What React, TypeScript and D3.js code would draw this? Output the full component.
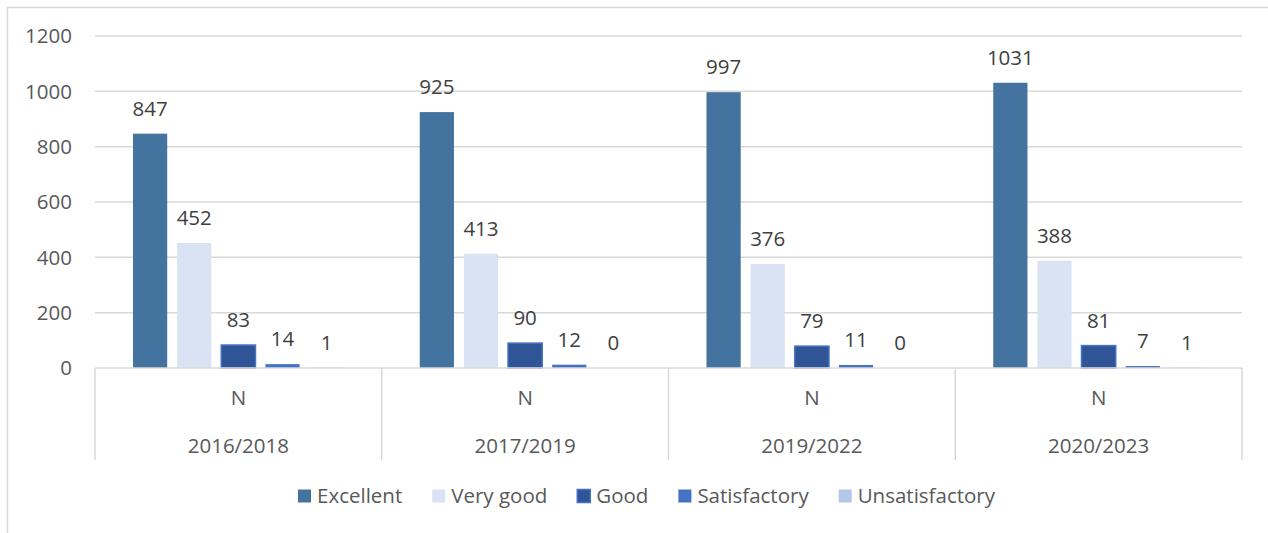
import React, { useEffect, useRef } from 'react';
import { scaleBand, scaleLinear, select } from 'd3';

const periods = ['2016/2018', '2017/2019', '2019/2022', '2020/2023'];
const subLabel = 'N';
const series = ['Excellent', 'Very good', 'Good', 'Satisfactory', 'Unsatisfactory'];
const excellent = [847, 925, 997, 1031];
const veryGood = [452, 413, 376, 388];
const good = [83, 90, 79, 81];
const satisfactory = [14, 12, 11, 7];
const unsatisfactory = [1, 0, 0, 1];
const yTicks = [0, 200, 400, 600, 800, 1000, 1200];

const fills = ['#44739F', '#DAE3F3', '#2F5597', '#4472C4', '#B4C7E7'];
const strokes = ['none', 'none', '#4472C4', 'none', 'none'];

const App = () => {
  const ref = useRef<SVGSVGElement | null>(null);

  useEffect(() => {
    const svg = select(ref.current);
    svg.selectAll('*').remove();
    const font = "'Open Sans', sans-serif";
    const fontSize = 20.5;

    const left = 95;
    const right = 1242;
    const top = 36;
    const bottom = 368;
    const values = [excellent, veryGood, good, satisfactory, unsatisfactory];

    // chart area border (cropped at right / bottom)
    svg.append('path')
      .attr('d', 'M7.5,533 L7.5,7.5 L1268,7.5')
      .attr('fill', 'none')
      .attr('stroke', '#D9D9D9')
      .attr('stroke-width', 1.5);

    const y = scaleLinear().domain([0, 1200]).range([bottom, top]);
    const x = scaleBand().domain(periods).range([left, right]).padding(0);
    const cw = x.bandwidth();
    const inner = scaleBand()
      .domain(series)
      .range([cw * 0.1325, cw * (1 - 0.1325)])
      .paddingInner(0.225)
      .paddingOuter(0);

    // gridlines
    svg.append('g').selectAll('line')
      .data(yTicks.filter((t) => t > 0))
      .enter()
      .append('line')
      .attr('x1', left)
      .attr('x2', right)
      .attr('y1', (d) => y(d))
      .attr('y2', (d) => y(d))
      .attr('stroke', '#D9D9D9')
      .attr('stroke-width', 1.5);

    // y tick labels
    svg.append('g').selectAll('text')
      .data(yTicks)
      .enter()
      .append('text')
      .attr('x', 72)
      .attr('y', (d) => y(d))
      .attr('dy', '0.35em')
      .attr('text-anchor', 'end')
      .attr('font-family', font)
      .attr('font-size', fontSize)
      .attr('fill', '#595959')
      .text((d) => d);

    // bars
    const g = svg.append('g');
    series.forEach((s, si) => {
      const data = values[si].map((v, i) => ({ period: periods[i], v }));
      g.selectAll(`.bar-${si}`)
        .data(data)
        .enter()
        .append('rect')
        .attr('class', `bar-${si}`)
        .attr('x', (d) => (x(d.period) ?? 0) + (inner(s) ?? 0))
        .attr('y', (d) => y(d.v))
        .attr('width', inner.bandwidth())
        .attr('height', (d) => bottom - y(d.v))
        .attr('fill', fills[si])
        .attr('stroke', (d) => (d.v > 0 ? strokes[si] : 'none'))
        .attr('stroke-width', 1.5);

      g.selectAll(`.lbl-${si}`)
        .data(data)
        .enter()
        .append('text')
        .attr('class', `lbl-${si}`)
        .attr('x', (d) => (x(d.period) ?? 0) + (inner(s) ?? 0) + inner.bandwidth() / 2)
        .attr('y', (d) => y(d.v) - 18)
        .attr('text-anchor', 'middle')
        .attr('font-family', font)
        .attr('font-size', fontSize)
        .attr('fill', '#404040')
        .text((d) => d.v);
    });

    // category axis
    svg.append('line')
      .attr('x1', left)
      .attr('x2', right)
      .attr('y1', bottom)
      .attr('y2', bottom)
      .attr('stroke', '#D9D9D9')
      .attr('stroke-width', 1.5);

    const bounds = [...periods.map((p) => x(p) ?? 0), right];
    svg.append('g').selectAll('line')
      .data(bounds)
      .enter()
      .append('line')
      .attr('x1', (d) => d)
      .attr('x2', (d) => d)
      .attr('y1', bottom)
      .attr('y2', 460)
      .attr('stroke', '#D9D9D9')
      .attr('stroke-width', 1.5);

    const cat = svg.append('g')
      .attr('font-family', font)
      .attr('font-size', fontSize)
      .attr('fill', '#595959')
      .attr('text-anchor', 'middle');
    periods.forEach((p) => {
      const cx = (x(p) ?? 0) + cw / 2;
      cat.append('text').attr('x', cx).attr('y', 398).attr('dy', '0.35em').text(subLabel);
      cat.append('text').attr('x', cx).attr('y', 446).attr('dy', '0.35em').text(p);
    });

    // legend
    const legend = svg.append('g');
    const items = series.map((s, si) => {
      const it = legend.append('g');
      it.append('rect')
        .attr('width', 13)
        .attr('height', 13)
        .attr('y', -6.5)
        .attr('fill', fills[si])
        .attr('stroke', strokes[si])
        .attr('stroke-width', 1.5);
      const t = it.append('text')
        .attr('x', 19)
        .attr('dy', '0.35em')
        .attr('font-family', font)
        .attr('font-size', fontSize)
        .attr('fill', '#595959')
        .text(s);
      const w = 19 + ((t.node() as SVGTextElement).getComputedTextLength?.() ?? s.length * 10);
      return { it, w };
    });
    const gap = 30;
    const total = items.reduce((a, b) => a + b.w, 0) + gap * (items.length - 1);
    let cx = 646.5 - total / 2;
    items.forEach(({ it, w }) => {
      it.attr('transform', `translate(${cx},496)`);
      cx += w + gap;
    });
  }, []);

  return <svg ref={ref} width={1268} height={533} style={{ display: 'block', position: 'absolute', left: 0, top: 0 }} />;
};

export default App;
